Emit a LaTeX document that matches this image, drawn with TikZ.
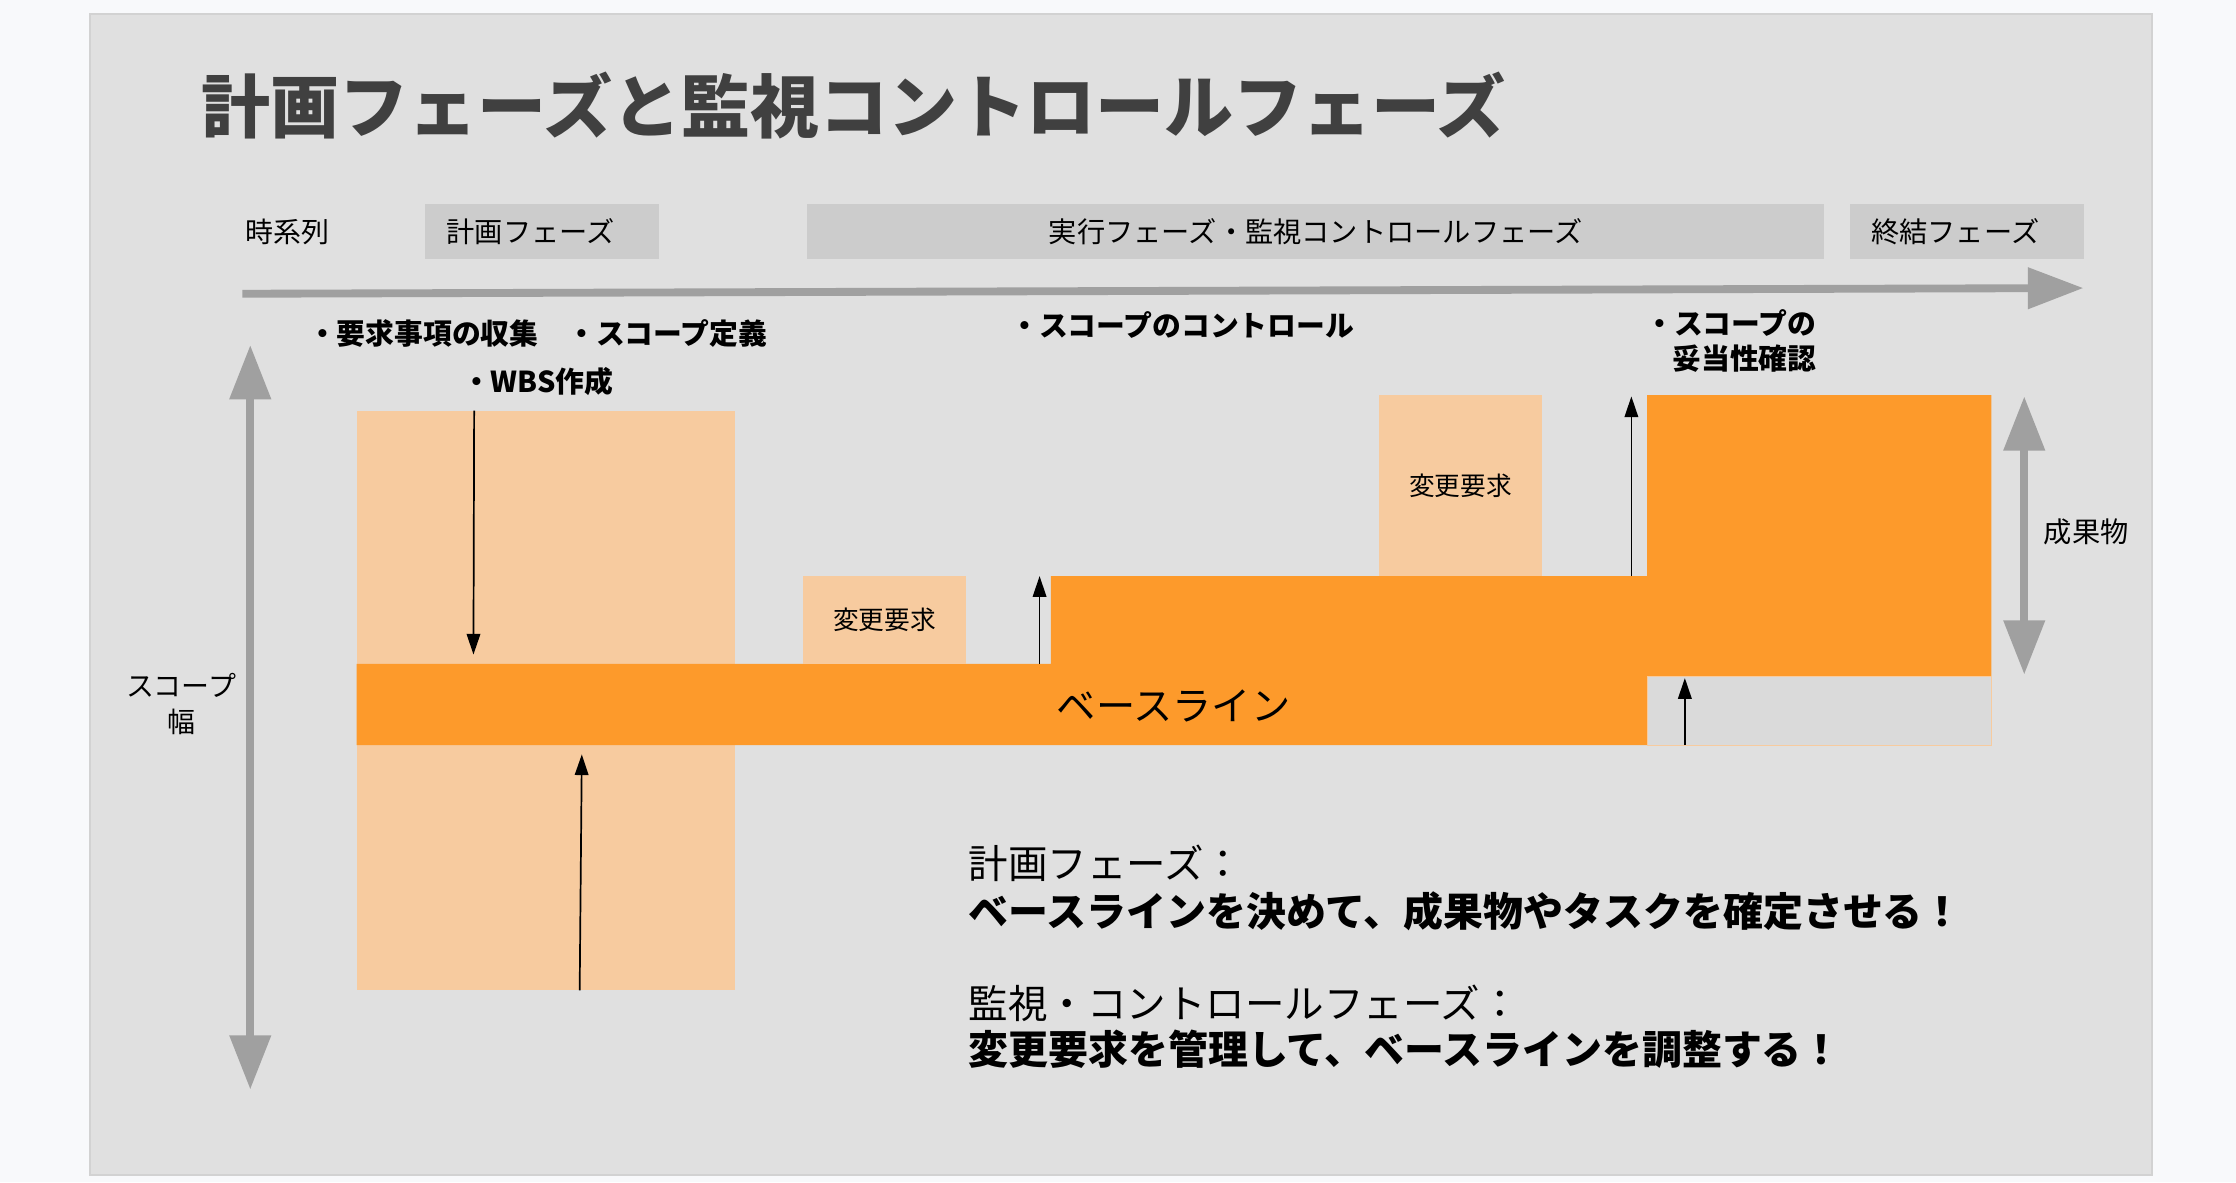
\documentclass[tikz,border=0pt]{standalone}
\usepackage{fontspec}
\setmainfont{Noto Sans CJK JP}
\usetikzlibrary{arrows.meta}
\definecolor{pagebg}{HTML}{F8F9FB}
\definecolor{panelgray}{HTML}{E0E0E0}
\definecolor{panelline}{HTML}{D2D2D2}
\definecolor{phasegray}{HTML}{CCCCCC}
\definecolor{arrowgray}{HTML}{A0A0A0}
\definecolor{basefill}{HTML}{FD9A2B}
\definecolor{lightfill}{HTML}{F7CB9F}
\definecolor{subgray}{HTML}{DADADA}
\definecolor{titlegray}{HTML}{404040}

\begin{document}
\begin{tikzpicture}[x=1pt,y=-1pt,
  phase/.style={fill=phasegray,anchor=north west,minimum height=38.5pt,
    inner xsep=15pt,inner ysep=0pt,font=\fontsize{19.8}{24}\selectfont},
  req/.style={fill=lightfill,anchor=north west,minimum width=114pt,
    inner sep=0pt,font=\fontsize{18}{22}\selectfont},
  bold label/.style={inner sep=0pt,font=\bfseries\fontsize{20.2}{33.5}\selectfont},
  plain label/.style={inner sep=0pt,font=\fontsize{19.6}{25}\selectfont},
  grayarrow/.style={draw=arrowgray,line width=5.5pt},
  big tip/.tip={Triangle[length=38pt,width=28pt]},
  push/.style={-{Triangle[length=14.5pt,width=9.5pt]},line width=1.2pt}]
  % page and panel
  \fill[pagebg] (0,0) rectangle (1568,829);
  \filldraw[fill=panelgray,draw=panelline,line width=1.5pt] (63,10) rectangle (1509,824);
  \node (title) at (141,74) [anchor=west,inner sep=0pt,text=titlegray,
    font=\bfseries\fontsize{48.4}{58}\selectfont] {計画フェーズと監視コントロールフェーズ};

  % time line
  \node (time) at (201.8,162.5) [plain label] {時系列};
  \node (plan) at (298,143) [phase,text width=134pt,align=left] {計画フェーズ};
  \node (exec) at (566,143) [phase,text width=683pt,align=center] {実行フェーズ・監視コントロールフェーズ};
  \node (close) at (1297,143) [phase,text width=134pt,align=left] {終結フェーズ};
  \coordinate (timeL) at (170,206);
  \coordinate (timeR) at (1461,202);
  \draw[grayarrow,-{Triangle[length=39pt,width=28pt]}] (timeL) -- (timeR);

  % scope axis
  \coordinate (scopeT) at (175.5,242);
  \coordinate (scopeB) at (175.5,764);
  \draw[grayarrow,big tip-big tip] (scopeT) -- (scopeB);
  \node (width) at (127,493.5) [plain label,align=center] {スコープ\\幅};

  % planning and baseline
  \fill[lightfill] (250,288) rectangle (515.5,694.5);
  \fill[basefill] (250,465.5) -- (737,465.5) -- (737,404) -- (1155,404) -- (1155,277)
    -- (1396.5,277) -- (1396.5,474.5) -- (1155,474.5) -- (1155,522.5) -- (250,522.5) -- cycle;
  \filldraw[fill=subgray,draw=lightfill,line width=0.8pt] (1155,474.5) rectangle (1396.5,522.5);
  \node (base) at (823,495) [inner sep=0pt,font=\fontsize{27.5}{33}\selectfont] {ベースライン};
  \node (req1) at (563,404) [req,minimum height=61.5pt] {変更要求};
  \node (req2) at (967,277) [req,minimum height=127pt] {変更要求};

  % labels
  \node (collect) at (377,251) [bold label,align=center] {・要求事項の収集　・スコープ定義\\・WBS作成};
  \node (control) at (829,228) [bold label] {・スコープのコントロール};
  \node (verify) at (1274,239) [bold label,anchor=east,align=right,
    font=\bfseries\fontsize{20.2}{24.5}\selectfont] {・スコープの\\妥当性確認};

  % deliverable axis
  \coordinate (prodT) at (1419.5,278);
  \coordinate (prodB) at (1419.5,473);
  \draw[grayarrow,big tip-big tip] (prodT) -- (prodB);
  \node (prod) at (1463,373) [plain label,font=\fontsize{19.8}{24}\selectfont] {成果物};

  % change arrows
  \coordinate (a1s) at (332.5,288);   \coordinate (a1e) at (332,459);
  \coordinate (a2s) at (406.5,694.5); \coordinate (a2e) at (408,529);
  \coordinate (a3s) at (729,465.5);   \coordinate (a3e) at (729,404);
  \coordinate (a4s) at (1144,404);    \coordinate (a4e) at (1144,278);
  \coordinate (a5s) at (1181.5,522.5); \coordinate (a5e) at (1181.5,475.5);
  \draw[push] (a1s) -- (a1e);
  \draw[push] (a2s) -- (a2e);
  \draw[push] (a3s) -- (a3e);
  \draw[push] (a4s) -- (a4e);
  \draw[push] (a5s) -- (a5e);

  % summary
  \node (sumplan) at (679,622.5) [anchor=west,inner sep=0pt,align=left,
    font=\fontsize{27.7}{34}\selectfont] {計画フェーズ：\\{\bfseries\fontsize{28}{34}\selectfont ベースラインを決めて、成果物やタスクを確定させる！}};
  \node (sumctrl) at (679,720) [anchor=west,inner sep=0pt,align=left,
    font=\fontsize{27.7}{32.5}\selectfont] {監視・コントロールフェーズ：\\{\bfseries\fontsize{28}{32.5}\selectfont 変更要求を管理して、ベースラインを調整する！}};
\end{tikzpicture}
\end{document}
